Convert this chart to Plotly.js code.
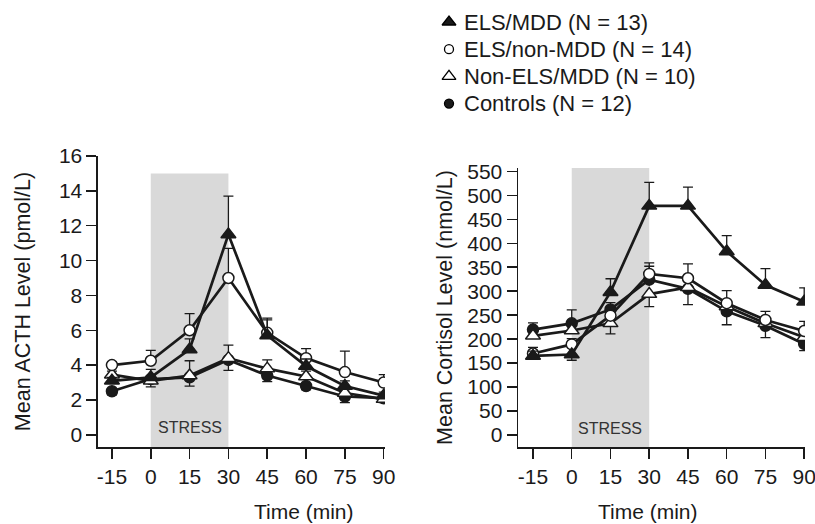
<!DOCTYPE html>
<html>
<head>
<meta charset="utf-8">
<script src="https://cdn.plot.ly/plotly-3.0.1.min.js"></script>
<style>html,body{margin:0;padding:0;background:#fff;}#chart{width:815px;height:524px;}</style>
</head>
<body>
<div id="chart"></div>
<script>
// ---- data ----
const times = [-15, 0, 15, 30, 45, 60, 75, 90];
const timeLabels = ['-15', '0', '15', '30', '45', '60', '75', '90'];
const groupNames = ['ELS/MDD (N = 13)', 'ELS/non-MDD (N = 14)', 'Non-ELS/MDD (N = 10)', 'Controls (N = 12)'];
const stressWindow = [0, 30];

// ACTH (pmol/L)
const acthElsMdd      = [3.1, 3.3, 4.9, 11.5, 5.7, 3.95, 2.8, 2.25];
const acthElsMddUp    = [0.2, 0.45, 0.6, 2.2, 0.9, 0.4, 0.3, 0.2];
const acthElsMddDown  = [0, 0, 0, 0, 0, 0, 0, 0];
const acthElsNon      = [4.0, 4.25, 6.0, 9.0, 5.85, 4.4, 3.6, 3.0];
const acthElsNonUp    = [0.2, 0.6, 0.95, 1.7, 0.85, 0.55, 1.2, 0.45];
const acthElsNonDown  = [0, 0, 0, 0, 0, 0, 0, 0];
const acthNonElsMdd   = [3.45, 3.1, 3.4, 4.4, 3.8, 3.35, 2.4, 2.05];
const acthNonElsUp    = [0.2, 0.3, 0.85, 0.75, 0.5, 0.3, 0.2, 0.15];
const acthNonElsDown  = [0, 0, 0, 0, 0, 0, 0, 0];
const acthControls    = [2.5, 3.2, 3.3, 4.3, 3.4, 2.8, 2.2, 2.1];
const acthCtrlUp      = [0, 0, 0, 0, 0, 0, 0, 0];
const acthCtrlDown    = [0.2, 0.45, 0.5, 0.6, 0.35, 0.2, 0.35, 0.25];
const acthStressTop   = 15;

// Cortisol (nmol/L)
const cortElsMdd      = [165, 168, 298, 478, 478, 383, 313, 278];
const cortElsMddUp    = [10, 0, 28, 49, 39, 33, 34, 29];
const cortElsMddDown  = [0, 12, 0, 0, 0, 0, 0, 0];
const cortElsNon      = [170, 189, 249, 336, 327, 275, 240, 217];
const cortElsNonUp    = [13, 12, 15, 23, 30, 26, 18, 20];
const cortElsNonDown  = [0, 0, 0, 0, 0, 0, 0, 0];
const cortNonElsMdd   = [207, 218, 233, 294, 308, 268, 233, 204];
const cortNonElsUp    = [0, 0, 0, 0, 0, 0, 0, 0];
const cortNonElsDown  = [0, 0, 22, 26, 36, 0, 0, 0];
const cortControls    = [220, 233, 262, 324, 305, 258, 228, 190];
const cortCtrlUp      = [14, 28, 14, 28, 0, 0, 0, 0];
const cortCtrlDown    = [0, 0, 0, 0, 0, 28, 25, 14];

// ---- styles ----
const FONT = 'Liberation Sans, Arial, Helvetica, sans-serif';
const INK = '#1a1a1a';
const styles = {
  elsMdd:   {symbol: 'triangle-up', size: 13, fill: INK},
  elsNon:   {symbol: 'circle', size: 11, fill: '#ffffff'},
  nonEls:   {symbol: 'triangle-up', size: 13, fill: '#ffffff'},
  controls: {symbol: 'circle', size: 11, fill: INK}
};
const legendStyles = [styles.elsMdd, styles.elsNon, styles.nonEls, styles.controls];
const legendSizes = [12, 9, 12, 9];

function series(y, up, down, st, xa, ya) {
  return {
    x: times, y: y, xaxis: xa, yaxis: ya, type: 'scatter', mode: 'lines+markers',
    showlegend: false, hoverinfo: 'skip',
    line: {color: INK, width: 2.7},
    marker: {symbol: st.symbol, size: st.size, color: st.fill, opacity: 1, line: {color: INK, width: 1.5}},
    error_y: {type: 'data', symmetric: false, array: up, arrayminus: down,
              color: INK, thickness: 1.3, width: 5}
  };
}

const traces = [
  series(acthControls, acthCtrlUp, acthCtrlDown, styles.controls, 'x', 'y'),
  series(acthNonElsMdd, acthNonElsUp, acthNonElsDown, styles.nonEls, 'x', 'y'),
  series(acthElsNon, acthElsNonUp, acthElsNonDown, styles.elsNon, 'x', 'y'),
  series(acthElsMdd, acthElsMddUp, acthElsMddDown, styles.elsMdd, 'x', 'y'),
  series(cortControls, cortCtrlUp, cortCtrlDown, styles.controls, 'x2', 'y2'),
  series(cortNonElsMdd, cortNonElsUp, cortNonElsDown, styles.nonEls, 'x2', 'y2'),
  series(cortElsNon, cortElsNonUp, cortElsNonDown, styles.elsNon, 'x2', 'y2'),
  series(cortElsMdd, cortElsMddUp, cortElsMddDown, styles.elsMdd, 'x2', 'y2')
];

// legend key (pixel layout on a hidden overlay axis)
const LEG_X = 449, LEG_TEXT_X = 462, LEG_Y0 = 22, LEG_STEP = 27.2;
traces.push({
  x: groupNames.map(() => LEG_X), y: groupNames.map((_, i) => LEG_Y0 + i * LEG_STEP),
  xaxis: 'x3', yaxis: 'y3', type: 'scatter', mode: 'markers', showlegend: false, hoverinfo: 'skip',
  marker: {symbol: legendStyles.map(s => s.symbol), size: legendSizes, opacity: 1,
           color: legendStyles.map(s => s.fill), line: {color: '#000000', width: 1.3}}
});

const yLeftRange = [-0.7, 16];
const yRightRange = [-25, 557];

function xAxis(domain, range, anchor) {
  return {domain: domain, range: range, anchor: anchor, tickmode: 'array',
    tickvals: times, ticktext: timeLabels, ticklabeloverflow: 'allow',
    ticks: 'outside', ticklen: 10, tickwidth: 1.5, tickcolor: INK,
    showline: true, linecolor: INK, linewidth: 1.5, showgrid: false, zeroline: false,
    tickfont: {family: FONT, size: 21, color: INK}, fixedrange: true};
}
function yAxis(domain, range, anchor, dtick, title, standoff) {
  return {domain: domain, range: range, anchor: anchor, tick0: 0, dtick: dtick,
    ticks: 'outside', ticklen: 10, tickwidth: 1.5, tickcolor: INK,
    showline: true, linecolor: INK, linewidth: 1.5, showgrid: false, zeroline: false,
    tickfont: {family: FONT, size: 21, color: INK}, fixedrange: true,
    title: {text: title, standoff: standoff, font: {family: FONT, size: 21.5, color: INK}}};
}

const annotations = [
  {text: 'STRESS', xref: 'x', yref: 'y', x: (stressWindow[0] + stressWindow[1]) / 2, y: 0.4,
   showarrow: false, font: {family: FONT, size: 16, color: '#333'}},
  {text: 'STRESS', xref: 'x2', yref: 'y2', x: (stressWindow[0] + stressWindow[1]) / 2, y: 14.6,
   showarrow: false, font: {family: FONT, size: 16, color: '#333'}},
  {text: 'Time (min)', xref: 'paper', yref: 'paper', x: 0.309, y: 0.0235, yanchor: 'middle',
   showarrow: false, font: {family: FONT, size: 21, color: INK}},
  {text: 'Time (min)', xref: 'paper', yref: 'paper', x: 0.859, y: 0.0235, yanchor: 'middle',
   showarrow: false, font: {family: FONT, size: 21, color: INK}}
];
groupNames.forEach((name, i) => {
  annotations.push({text: name, xref: 'x3', yref: 'y3', x: LEG_TEXT_X, y: LEG_Y0 + i * LEG_STEP,
    xanchor: 'left', yanchor: 'middle', showarrow: false,
    font: {family: FONT, size: 22, color: INK}});
});

const layout = {
  width: 815, height: 524,
  margin: {l: 0, r: 0, t: 0, b: 0},
  paper_bgcolor: '#ffffff', plot_bgcolor: 'rgba(0,0,0,0)',
  font: {family: FONT, color: INK},
  showlegend: false,
  xaxis: xAxis([0.1202, 0.4724], [-20.4, 90.5], 'y'),
  yaxis: yAxis([0.1469, 0.7023], yLeftRange, 'x', 2, 'Mean ACTH Level (pmol/L)', 22),
  xaxis2: xAxis([0.6356, 0.9877], [-20.8, 90.3], 'y2'),
  yaxis2: yAxis([0.1469, 0.6794], yRightRange, 'x2', 50, 'Mean Cortisol Level (nmol/L)', 8),
  xaxis3: {domain: [0, 1], range: [0, 815], anchor: 'y3', visible: false, fixedrange: true},
  yaxis3: {domain: [0, 1], range: [524, 0], anchor: 'x3', visible: false, fixedrange: true},
  shapes: [
    {type: 'rect', xref: 'x', yref: 'y', x0: stressWindow[0], x1: stressWindow[1],
     y0: yLeftRange[0], y1: acthStressTop, fillcolor: '#d9d9d9', line: {width: 0}, layer: 'below'},
    {type: 'rect', xref: 'x2', yref: 'y2', x0: stressWindow[0], x1: stressWindow[1],
     y0: yRightRange[0], y1: yRightRange[1], fillcolor: '#d9d9d9', line: {width: 0}, layer: 'below'}
  ],
  annotations: annotations
};

Plotly.newPlot('chart', traces, layout, {staticPlot: true, displayModeBar: false});
</script>
</body>
</html>
